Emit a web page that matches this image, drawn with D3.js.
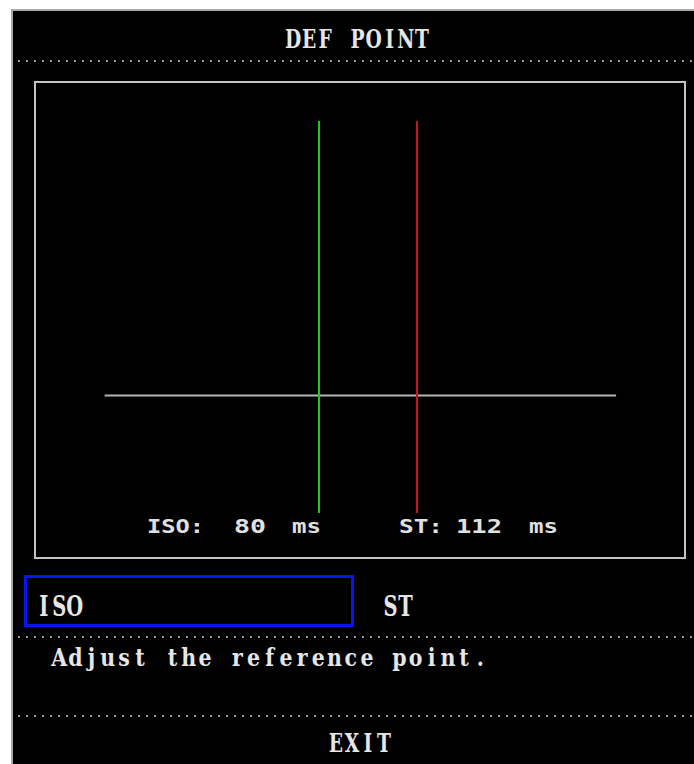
<!DOCTYPE html>
<meta charset="utf-8">
<style>
    body { margin: 0; background: #fff; }
    .big { font-family: "DejaVu Serif", serif; font-weight: bold; fill: #e6e6e6; }
    .small { font-family: "DejaVu Sans Mono", monospace; font-weight: bold; fill: #e0e0e0; }
</style>
<body>
    <svg width="694" height="764"></svg>
</body>
<script src="https://d3js.org/d3.v7.min.js"></script>
<script>
    // values
    var markers = ["ISO", "ST"];
    var markerMs = [80, 112];
    var markerColors = ["#1ec81e", "#c81414"];
    var baseMs = [10, 177];
    var tabs = ["ISO", "ST"];

    var svg = d3.select("svg");

    // panel frame
    svg.append("rect").attr("x", 11).attr("y", 9).attr("width", 683).attr("height", 755).attr("fill", "#a8a8a8");
    svg.append("rect").attr("x", 13).attr("y", 11).attr("width", 681).attr("height", 753).attr("fill", "#000");

    // ms -> px
    var x = d3.scaleLinear().domain([0, 200]).range([74, 686.5]);
    var y = d3.scaleLinear().domain([0, 1]).range([513, 121]);

    // fixed-cell text, like the monitor's bitmap font
    function label(txt, x0, y0, cell, size, sx) {
        var g = svg.append("g");
        g.selectAll("text").data(txt.split("")).enter().append("text")
            .attr("class", "big")
            .attr("text-anchor", "middle")
            .attr("transform", function (d, i) {
                return "translate(" + (x0 + cell * (i + 0.5)) + "," + y0 + ") scale(" + sx + ",1)";
            })
            .style("font-size", size + "px")
            .text(function (d) { return d; });
        return g;
    }

    label("DEF POINT", 285, 48, 16.1, 26, 0.72);

    function dotted(yy) {
        svg.append("line").attr("x1", 18).attr("x2", 694).attr("y1", yy).attr("y2", yy)
            .attr("stroke", "#9a9a9a").attr("stroke-width", 2).attr("stroke-dasharray", "2 6");
    }
    dotted(61);
    dotted(637);
    dotted(716);

    svg.append("rect").attr("x", 35).attr("y", 82).attr("width", 650).attr("height", 476)
        .attr("fill", "none").attr("stroke", "#c4c4c4").attr("stroke-width", 2);

    svg.append("line")
        .attr("x1", x(baseMs[0])).attr("x2", x(baseMs[1]))
        .attr("y1", y(0.3)).attr("y2", y(0.3))
        .attr("stroke", "#b4b4b4").attr("stroke-width", 2);

    svg.selectAll(".marker").data(markerMs).enter().append("line")
        .attr("class", "marker")
        .attr("x1", function (d) { return x(d); }).attr("x2", function (d) { return x(d); })
        .attr("y1", y(1)).attr("y2", y(0))
        .attr("stroke", function (d, i) { return markerColors[i]; })
        .attr("stroke-width", 2);

    // readouts under the plot
    var labelX = [[147, 234, 292], [399, 456, 529]];
    var labelW = [[57, 32, 29], [44, 46, 29]];
    markers.forEach(function (m, i) {
        var parts = [m + ":", String(markerMs[i]), "ms"];
        parts.forEach(function (p, j) {
            svg.append("text").attr("class", "small")
                .attr("x", labelX[i][j]).attr("y", 533)
                .attr("textLength", labelW[i][j]).attr("lengthAdjust", "spacingAndGlyphs")
                .style("font-size", "19px")
                .text(p);
        });
    });

    svg.append("rect").attr("x", 25.5).attr("y", 576.5).attr("width", 327).attr("height", 49)
        .attr("fill", "none").attr("stroke", "#0a14f0").attr("stroke-width", 3);

    label(tabs[0], 36, 616, 15.5, 27, 0.72);
    label(tabs[1], 383, 616, 15, 27, 0.72);

    label("Adjust the reference point.", 51, 666, 16.2, 25, 0.82);

    label("EXIT", 328, 752, 16, 26, 0.72);
</script>
